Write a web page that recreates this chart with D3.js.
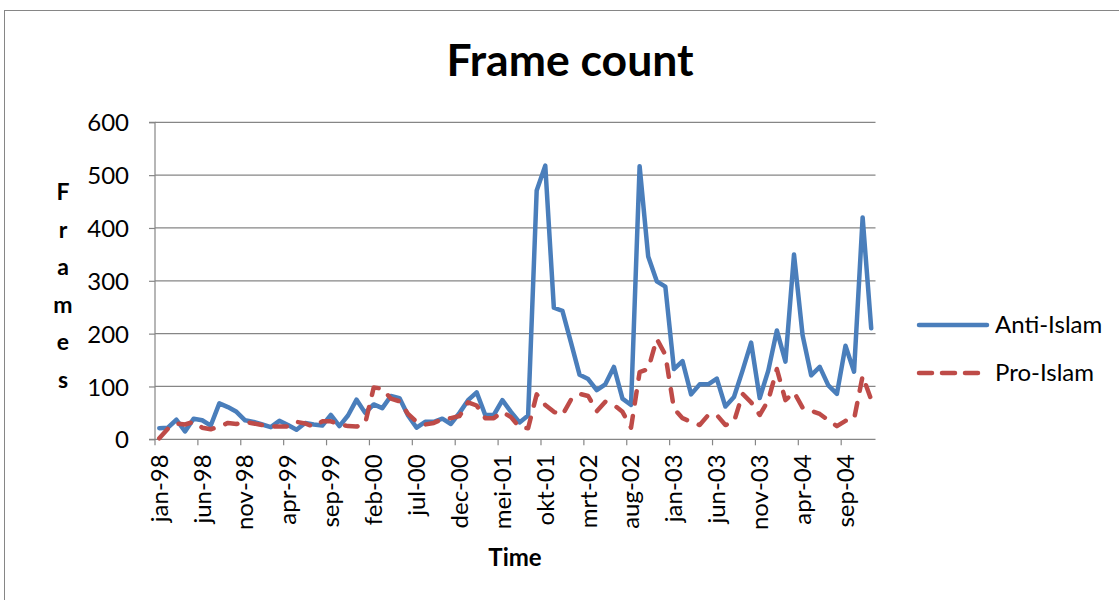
<!DOCTYPE html>
<html>
<head>
<meta charset="utf-8">
<script src="https://d3js.org/d3.v7.min.js"></script>
<style>
  body { margin: 0; background: #fff; }
  text { font-family: Lato, "Open Sans", sans-serif; fill: #000; }
</style>
</head>
<body>
<div id="chart"></div>
<script>
// month names (Dutch) and years for the category axis
var monthNames = ["jan","feb","mrt","apr","mei","jun","jul","aug","sep","okt","nov","dec"];
var years = ["98","99","00","01","02","03","04"];

// monthly frame counts, jan-98 .. dec-04
var antiIslam = [21, 22, 37, 15, 39, 36, 26, 68, 61, 52, 36, 33,
                 28, 23, 35, 27, 18, 31, 28, 26, 46, 25, 45, 75,
                 50, 66, 59, 82, 78, 45, 22, 33, 33, 39, 29, 50,
                 74, 89, 46, 46, 74, 52, 32, 45, 471, 518, 249, 243,
                 183, 122, 114, 93, 104, 137, 77, 65, 517, 346, 299, 289,
                 133, 148, 85, 104, 104, 115, 62, 80, 130, 183, 78, 130,
                 206, 147, 350, 197, 121, 137, 102, 86, 177, 128, 420, 210];
var proIslam = [2, 20, 30, 28, 33, 22, 19, 24, 31, 29, 33, 30,
                27, 24, 24, 24, 33, 30, 24, 34, 34, 28, 25, 24,
                30, 98, 96, 77, 72, 48, 33, 28, 31, 38, 40, 44,
                70, 64, 40, 40, 52, 42, 23, 21, 85, 65, 52, 46,
                75, 86, 82, 53, 71, 65, 52, 22, 127, 133, 190, 160,
                58, 40, 33, 27, 46, 46, 27, 33, 86, 70, 46, 74,
                133, 74, 89, 60, 54, 48, 36, 25, 35, 38, 120, 75];
var yTicks = [0, 100, 200, 300, 400, 500, 600];
var seriesNames = ["Anti-Islam", "Pro-Islam"];

var categories = [];
years.forEach(function(yr) {
  monthNames.forEach(function(m) { categories.push(m + "-" + yr); });
});

var W = 1119, H = 600;
var plot = {left: 155, right: 875.5, top: 122.3, bottom: 439.3};

var svg = d3.select("#chart")
  .append("svg")
    .attr("width", W)
    .attr("height", H);

// chart area border (runs off the right and bottom edge)
svg.append("rect")
    .attr("x", 4.5).attr("y", 10.5)
    .attr("width", 1131).attr("height", 700)
    .style("fill", "none")
    .style("stroke", "#868686")
    .style("stroke-width", 1);

// title
svg.append("text")
    .attr("x", 570).attr("y", 76)
    .style("text-anchor", "middle")
    .style("font-size", "44.5px")
    .style("font-weight", "bold")
    .text("Frame count");

// scales
var x = d3.scaleBand()
    .domain(categories)
    .range([plot.left, plot.right])
    .padding(0);

var y = d3.scaleLinear()
    .domain([0, 600])
    .range([plot.bottom, plot.top]);

// horizontal gridlines
svg.append("g")
  .selectAll("line")
  .data(yTicks.slice(1))
  .enter()
  .append("line")
    .attr("x1", plot.left).attr("x2", plot.right)
    .attr("y1", function(d) { return y(d); })
    .attr("y2", function(d) { return y(d); })
    .style("stroke", "#868686")
    .style("stroke-width", 1.2);

// Y axis
var yAxis = svg.append("g")
    .attr("transform", "translate(" + plot.left + ",0)")
    .call(d3.axisLeft(y).tickValues(yTicks).tickSize(6).tickPadding(20));
yAxis.selectAll("text").style("font-size", "24px").attr("dy", "0.36em");
yAxis.selectAll("line, path").style("stroke", "#868686").style("stroke-width", 1.2);
yAxis.select(".domain").attr("d", "M-6," + plot.top + "H0V" + plot.bottom + "H-6");

// X axis: labels every 5 months, centred in the category
var labelCats = categories.filter(function(d, i) { return i % 5 === 0; });
var xAxis = svg.append("g")
    .attr("transform", "translate(0," + plot.bottom + ")")
    .call(d3.axisBottom(x).tickValues(labelCats).tickSize(0).tickPadding(0));
xAxis.select(".domain")
    .attr("d", "M" + plot.left + ",0H" + plot.right)
    .style("stroke", "#868686").style("stroke-width", 1.2);
xAxis.selectAll("text")
    .style("font-size", "24px")
    .style("text-anchor", "end")
    .attr("transform", "rotate(-90)")
    .attr("x", -15)
    .attr("y", 0)
    .attr("dy", "0.35em");

// x tick marks sit on the category boundaries
xAxis.selectAll("line.bound")
  .data(labelCats)
  .enter()
  .append("line")
    .attr("class", "bound")
    .attr("x1", function(d) { return x(d); })
    .attr("x2", function(d) { return x(d); })
    .attr("y1", 0).attr("y2", 6)
    .style("stroke", "#868686")
    .style("stroke-width", 1.2);

// axis titles
svg.append("text")
    .attr("x", 515).attr("y", 566)
    .style("text-anchor", "middle")
    .style("font-size", "24px")
    .style("font-weight", "bold")
    .text("Time");

var yTitle = svg.append("text")
    .attr("x", 63).attr("y", 200)
    .style("text-anchor", "middle")
    .style("font-size", "23px")
    .style("font-weight", "bold");
"Frames".split("").forEach(function(ch, i) {
  yTitle.append("tspan")
      .attr("x", 63)
      .attr("dy", i === 0 ? 0 : 37.6)
      .text(ch);
});

// lines
var line = d3.line()
    .x(function(d, i) { return x(categories[i]) + x.bandwidth() / 2; })
    .y(function(d) { return y(d); });

svg.append("path")
    .datum(antiIslam)
    .attr("d", line)
    .style("fill", "none")
    .style("stroke", "#4A7EBB")
    .style("stroke-width", 4.5)
    .style("stroke-linejoin", "round")
    .style("stroke-linecap", "round");

svg.append("path")
    .datum(proIslam)
    .attr("d", line)
    .style("fill", "none")
    .style("stroke", "#BE4B48")
    .style("stroke-width", 4.5)
    .style("stroke-dasharray", "12.5,12.5")
    .style("stroke-linejoin", "round")
    .style("stroke-linecap", "round");

// Handmade legend
svg.append("line").attr("x1", 919).attr("x2", 987).attr("y1", 325).attr("y2", 325)
    .style("stroke", "#4A7EBB").style("stroke-width", 4.5).style("stroke-linecap", "round");
svg.append("line").attr("x1", 919).attr("x2", 987).attr("y1", 373).attr("y2", 373)
    .style("stroke", "#BE4B48").style("stroke-width", 4.5).style("stroke-linecap", "round")
    .style("stroke-dasharray", "13,10");
svg.append("text").attr("x", 995).attr("y", 325).attr("dy", "0.35em")
    .text(seriesNames[0]).style("font-size", "24px");
svg.append("text").attr("x", 995).attr("y", 373).attr("dy", "0.35em")
    .text(seriesNames[1]).style("font-size", "24px");
</script>
</body>
</html>
